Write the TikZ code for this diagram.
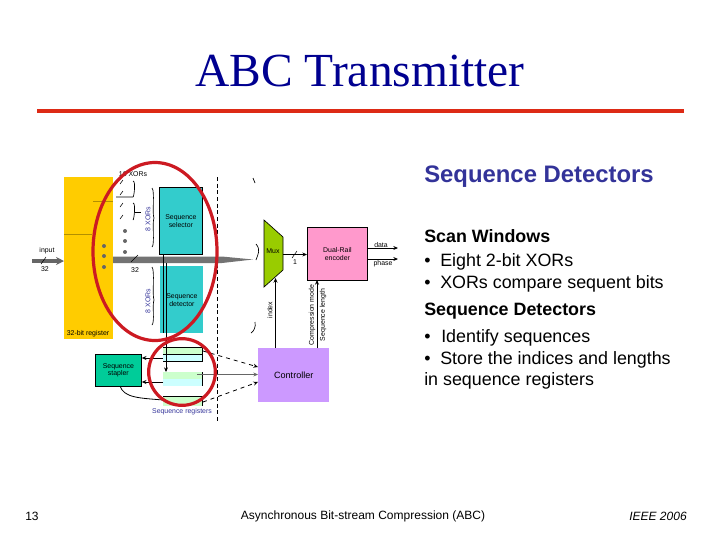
\documentclass[tikz,border=0pt]{standalone}
\usepackage{fontspec}
\setmainfont{Liberation Sans}
\newfontfamily\titlefont{Liberation Serif}
\usetikzlibrary{arrows.meta,shapes.geometric}
\definecolor{navyt}{HTML}{000090}
\definecolor{headb}{HTML}{333399}
\definecolor{redc}{HTML}{CC1A22}
\definecolor{rulec}{HTML}{DD2A15}
\definecolor{yel}{HTML}{FFCC00}
\definecolor{tealb}{HTML}{33CCCC}
\definecolor{greenb}{HTML}{99CC00}
\definecolor{pinkb}{HTML}{FF99CC}
\definecolor{purb}{HTML}{CC99FF}
\definecolor{stap}{HTML}{00CC99}
\definecolor{lgreen}{HTML}{CCFFCC}
\definecolor{lcyan}{HTML}{CCFFFF}
\tikzset{
 body/.style={anchor=west,inner sep=0pt,font=\fontsize{13.4pt}{15pt}\selectfont},
 bodyb/.style={anchor=west,inner sep=0pt,font=\bfseries\fontsize{13.4pt}{15pt}\selectfont},
 tiny/.style={inner sep=0pt,font=\fontsize{5.2pt}{5.8pt}\selectfont,align=center},
 box/.style={draw=black,line width=0.6pt,inner sep=0pt,align=center,font=\fontsize{5.2pt}{5.8pt}\selectfont},
 wire/.style={line width=0.6pt,-{Stealth[length=3.5pt,width=3pt]}},
 dwire/.style={wire,dashed},
 ring/.style={draw=redc,line width=2.4pt},
 dot/.style={circle,fill=black!60,inner sep=0pt,minimum size=3pt},
 brc/.style={line width=0.5pt},
}
\begin{document}
\begin{tikzpicture}[x=0.75pt,y=-0.75pt]
\useasboundingbox (0,0) rectangle (720,540);
\node[inner sep=0pt,text=navyt,font=\titlefont\fontsize{35.6pt}{38pt}\selectfont] (title) at (360,71) {ABC Transmitter};
\coordinate (ruleL) at (37,111); \coordinate (ruleR) at (684,111);
\draw[rulec,line width=3pt] (ruleL) -- (ruleR);
% register
\node[fill=yel,minimum width=36.75pt,minimum height=121.5pt,inner sep=0pt,anchor=north west] (reg) at (64,177) {};
\draw[draw=black!30!yel,line width=0.5pt] (64,234) -- (92,234) (93,201) -- (113,201);
\node[tiny,anchor=south] (regl) at (88,337) {32-bit register};
\node[tiny,anchor=south] (xl) at (133,177) {16 XORs};
% bus
\fill[black!55] (113,256.5) -- (222,256.5) -- (253,259.5) -- (222,263) -- (113,263) -- cycle;
% input
\coordinate (inA) at (32,261); \coordinate (inB) at (64,261);
\draw[black!60,line width=2.6pt,-{Stealth[length=6pt,width=6pt]}] (inA) -- (inB);
\node[tiny] (inl) at (47,251) {input};
\node[tiny] (n32) at (45,269) {32};
\draw[line width=0.4pt] (41,264) -- (46,257);
% boxes
\node[box,fill=tealb,minimum width=32.25pt,minimum height=50.25pt,anchor=north west] (sel) at (159,187) {Sequence\\selector};
\node[box,draw=none,fill=tealb,minimum width=32.25pt,minimum height=50.25pt,anchor=north west] (det) at (160,266) {Sequence\\detector};
\filldraw[fill=greenb,draw=black,line width=0.5pt] (264,220) -- (283,237) -- (283,270) -- (264,287) -- cycle;
\node[tiny] (mux) at (273,251) {Mux};
\node[box,fill=pinkb,minimum width=45pt,minimum height=39.75pt,anchor=north west] (enc) at (307,227) {Dual-Rail\\encoder};
\node[fill=purb,minimum width=53.25pt,minimum height=40.5pt,inner sep=0pt,anchor=north west,font=\fontsize{6.8pt}{8pt}\selectfont] (ctl) at (258,348) {Controller};
\node[box,fill=stap,minimum width=34.5pt,minimum height=24pt,anchor=north west] (stp) at (95,354) {Sequence\\stapler};
% registers
\fill[lgreen] (163,347) rectangle (202,354);
\fill[lcyan] (163,354) rectangle (202,361);
\fill[lgreen] (163,372) rectangle (202,379);
\fill[lcyan] (163,379) rectangle (202,386);
\fill[lgreen] (163,396) rectangle (202,406);
\draw[line width=0.6pt] (163,347) -- (202,347) -- (202,361) -- (163,361) (163,354) -- (202,354);
\draw[line width=0.6pt] (202,372) -- (202,386);
\draw[line width=0.6pt] (163,396) -- (202,396) -- (202,406);
\coordinate (r1) at (203,351); \coordinate (r2) at (197,374.5); \coordinate (r3) at (203,402);
\node[tiny,text=headb] (regs) at (182,412) {Sequence registers};
% connectors
\coordinate (muxR) at (283,254.5);
\draw[wire] (muxR) -- (muxR -| enc.west);
\draw[line width=0.4pt] (292,258) -- (297,251);
\node[tiny] (one) at (295,262) {1};
\coordinate (dataL) at (367,248); \coordinate (dataR) at (398,248);
\coordinate (phaseL) at (367,259); \coordinate (phaseR) at (398,259);
\draw[wire] (dataL) -- (dataR);
\draw[wire] (phaseL) -- (phaseR);
\node[tiny,anchor=south] (dl) at (381,248) {data};
\node[tiny,anchor=north] (pl) at (383,260) {phase};
\coordinate (idxB) at (275.5,348); \coordinate (idxT) at (275.5,278);
\draw[wire] (idxB) -- (idxT);
\node[tiny,rotate=90] (idl) at (270,310) {index};
\coordinate (cB) at (317,348); \coordinate (cT) at (317,280);
\draw[wire] (cB) -- (cT);
\node[tiny,rotate=90] (c1) at (312,315) {Compression mode};
\node[tiny,rotate=90] (c2) at (323,315) {Sequence length};
% detector wires
\coordinate (v1) at (166,263); \coordinate (r2t) at (166,372);
\draw[wire] (v1) -- (r2t);
\coordinate (v2) at (163,254); \coordinate (v3) at (163,333);
\draw[line width=0.6pt] (v2) -- (v3);
\coordinate (s1) at (163,358); \coordinate (s2) at (163,382);
\draw[wire] (s1) -- (s1 -| stp.east);
\draw[wire] (s2) -- (s2 -| stp.east);
\coordinate (s3) at (120,386); \coordinate (s4) at (163,400);
\draw[line width=0.6pt] (s3) .. controls (124,398) and (140,398) .. (s4);
\coordinate (c1a) at (258,367); \coordinate (c2a) at (258,374.5); \coordinate (c3a) at (258,382);
\draw[dwire] (r1) -- (c1a);
\draw[wire,black!60] (r2) -- (c2a);
\draw[dwire] (r3) -- (c3a);
% dots
\foreach \y [count=\i] in {246,256,267} \node[dot] (da\i) at (104,\y) {};
\foreach \y [count=\i] in {231,241,252} \node[dot] (db\i) at (125,\y) {};
% braces / small labels
\node[tiny] (q1) at (135,270) {32};
\draw[line width=0.4pt] (131,262) -- (138,255);
\node[tiny,rotate=90,text=headb] (x1) at (148,219) {8 XORs};
\node[tiny,rotate=90,text=headb] (x2) at (148,301) {8 XORs};
\foreach \yy in {184,195,207,219} \draw[line width=0.4pt] (120,\yy) -- (123,\yy-4);
\draw[brc] (133,181) .. controls (136,181) and (134,197) .. (133,197) -- (116,197);
\draw[brc] (133,203) .. controls (136,203) and (134,220) .. (133,220);
\draw[brc] (135,212) -- (141,212);
\draw[brc] (152,188) .. controls (155,190) and (152,215) .. (154,218) .. controls (152,222) and (155,245) .. (152,247);
\draw[brc] (152,267) .. controls (155,270) and (152,295) .. (154,300) .. controls (152,305) and (155,322) .. (152,325);
\draw[brc] (253,178) -- (255,183);
\draw[brc] (256,244) .. controls (261,250) and (258,254) .. (256,260);
\draw[brc] (255,322) .. controls (256,327) and (254,331) .. (251,333);
% dashed divider
\coordinate (dT) at (217,177); \coordinate (dB) at (217,422);
\draw[line width=0.6pt,densely dashed] (dT) -- (dB);
% rings
\node[ring,ellipse,minimum width=93pt,minimum height=133.5pt,inner sep=0pt] (big) at (155,251.5) {};
\node[ring,circle,minimum size=50pt,inner sep=0pt] (small) at (182,372) {};
% text
\node[anchor=west,inner sep=0pt,text=headb,font=\bfseries\fontsize{17.9pt}{20pt}\selectfont] (h) at (424,177) {Sequence Detectors};
\node[bodyb] (t1) at (424,236) {Scan Windows};
\node[body] (t2b) at (424,262) {•};
\node[body] (t2) at (440,262) {Eight 2-bit XORs};
\node[body] (t3b) at (424,284) {•};
\node[body] (t3) at (440,284) {XORs compare sequent bits};
\node[bodyb] (t4) at (424,311) {Sequence Detectors};
\node[body] (t5b) at (424,338) {•};
\node[body] (t5) at (441,338) {Identify sequences};
\node[body] (t6b) at (424,360) {•};
\node[body] (t6) at (440,360) {Store the indices and lengths};
\node[body] (t7) at (424,381) {in sequence registers};
\node[inner sep=0pt,font=\fontsize{9pt}{11pt}\selectfont] (num) at (32,516) {13};
\node[inner sep=0pt,font=\fontsize{9pt}{11pt}\selectfont] (foot) at (363,516) {Asynchronous Bit-stream Compression (ABC)};
\node[inner sep=0pt,font=\itshape\fontsize{9pt}{11pt}\selectfont] (ieee) at (658,516) {IEEE 2006};
\end{tikzpicture}
\end{document}
